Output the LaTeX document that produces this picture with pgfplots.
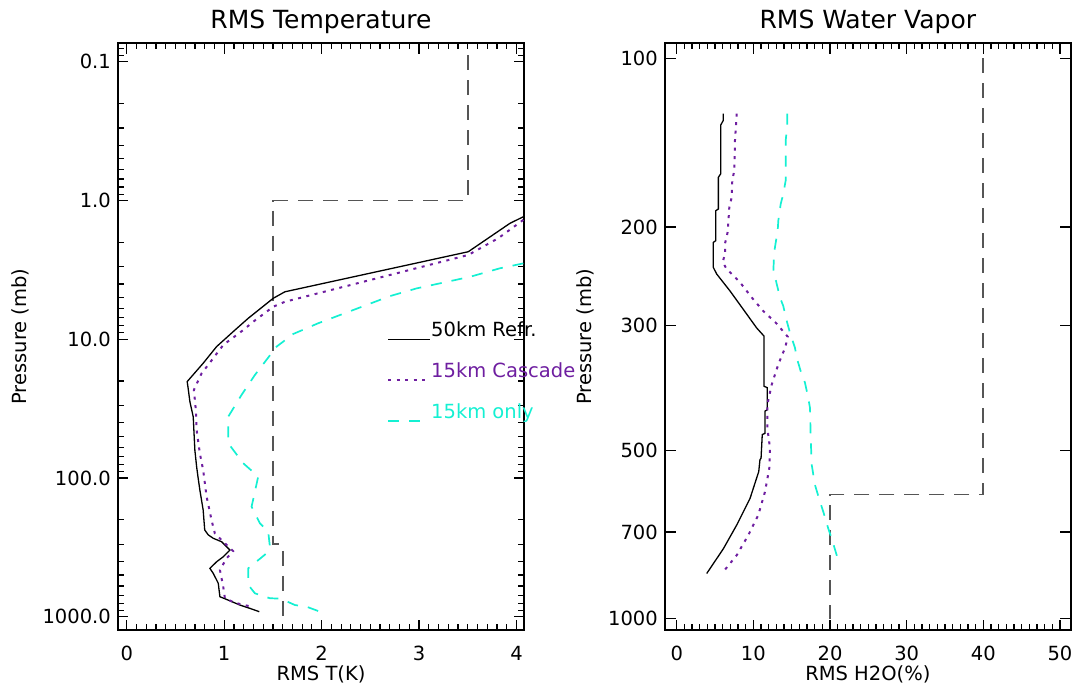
\documentclass[border=0pt]{standalone}
\usepackage{pgfplots}
\pgfplotsset{compat=1.18}
\usepackage{fontspec}
\setmainfont{DejaVu Sans}
\definecolor{cpurple}{RGB}{110,30,160}
\definecolor{ccyan}{RGB}{20,240,210}
\definecolor{cgray}{RGB}{85,85,85}
\newcommand\tfont{\fontsize{19.5}{22}\selectfont}
\newcommand\ttlfont{\fontsize{25}{28}\selectfont}
\pgfplotsset{
  major tick length=10.5pt, minor tick length=5.8pt,
  myax/.style={
    scale only axis, height=586.7pt,
    axis line style={line width=1.8pt},
    every tick/.style={line width=1.2pt, black},
    every tick label/.append style={font=\tfont},
    /pgf/number format/assume math mode=true,
    xticklabel style={anchor=north, inner sep=0pt, yshift=-16pt},
    yticklabel style={anchor=east, inner sep=0pt, xshift=-7pt},
    title style={font=\ttlfont, at={(axis description cs:0.5,1)}, anchor=base, yshift=9pt, inner sep=0pt},
    xlabel style={font=\tfont, at={(axis description cs:0.5,0)}, anchor=base, yshift=-50pt, inner sep=0pt},
    ylabel style={font=\tfont, anchor=base, inner sep=0pt},
    minor x tick num=9,
  }
}
\begin{document}
\begin{tikzpicture}[x=1pt,y=1pt]
\useasboundingbox (0,0) rectangle (1076,689);
% ---------------- Left: RMS Temperature ----------------
\begin{axis}[myax, width=406pt, ymode=log, y dir=reverse,
  at={(118pt,59pt)}, anchor=south west,
  xmin=-0.09, xmax=4.077, xtick={0,1,2,3,4},
  ymin=0.0736, ymax=1247,
  ytick={0.1,1,10,100,1000}, yticklabels={0.1,1.0,10.0,100.0,1000.0},
  minor ytick={0.08,0.09,0.2,0.3,0.4,0.5,0.6,0.7,0.8,0.9,2,3,4,5,6,7,8,9,20,30,40,50,60,70,80,90,200,300,400,500,600,700,800,900},
  title={RMS Temperature}, xlabel={RMS T(K)}, ylabel={Pressure (mb)},
  ylabel style={at={(axis description cs:-0.2266,0.5)}},
  legend style={at={(axis cs:2.673,7.5)}, anchor=north west, draw=none, fill=none,
    inner sep=0pt, outer sep=0pt, font=\tfont, row sep={41pt,between origins},
    column sep=0pt, nodes={inner sep=0pt}, cells={anchor=base west}},
  legend image code/.code={\draw[#1] (0pt,-2.6pt) -- (42pt,-2.6pt);},
]
\addplot[cgray, line width=1.9pt, dash pattern=on 15pt off 10pt, forget plot] coordinates {
(3.5,0.09) (3.5,1) (1.5,1) (1.5,300) (1.6,300) (1.6,1000)};
\addplot[black, line width=1.3pt] coordinates {
(4.07,1.31) (3.933,1.46) (3.505,2.34) (1.623,4.55) (1.503,5.07) (1.247,7.06) (1.11,8.59)
(0.922,11.3) (0.784,14.9) (0.62,20.2) (0.63,22.6) (0.648,28.2) (0.682,36.2) (0.699,63.1)
(0.717,83.0) (0.733,100.7) (0.75,122) (0.784,170) (0.80,237) (0.836,257) (0.887,272)
(0.973,288) (1.059,331) (0.99,370) (0.922,402) (0.853,448) (0.887,486) (0.939,574)
(0.956,718) (1.041,759) (1.161,824) (1.264,871) (1.36,920)};
\addlegendentry{50km Refr.}
\addplot[cpurple, line width=2pt, dash pattern=on 3pt off 5.5pt] coordinates {
(4.07,1.38) (3.813,1.87) (3.505,2.47) (1.623,5.37) (1.503,5.83) (1.298,7.48) (1.195,8.59)
(0.99,11.0) (0.836,15.3) (0.768,17.6) (0.689,23.2) (0.709,32.4) (0.717,45.1) (0.75,66.4)
(0.784,87.7) (0.819,136) (0.87,201) (0.904,251) (0.99,288) (1.092,337) (1.025,379)
(0.956,460) (0.99,608) (1.007,736) (1.11,794) (1.28,847)};
\addlegendentry{\textcolor{cpurple}{15km Cascade}}
\addplot[ccyan, line width=1.7pt, dash pattern=on 11pt off 10pt] coordinates {
(4.07,2.84) (3.83,3.08) (3.522,3.55) (2.975,4.30) (2.70,4.89) (2.462,5.66) (1.965,7.67)
(1.709,9.16) (1.538,11.3) (1.315,18.1) (1.178,25.2) (1.041,36.2) (1.041,56.2) (1.195,78.3)
(1.349,97.7) (1.281,161) (1.366,212) (1.452,244) (1.469,313) (1.435,349) (1.247,448)
(1.247,590) (1.315,678) (1.469,736) (1.58,741) (1.726,824) (1.845,847) (1.983,920)};
\addlegendentry{\textcolor{ccyan}{15km only}}
\end{axis}
% ---------------- Right: RMS Water Vapor ----------------
\begin{axis}[myax, width=405.7pt, ymode=log, y dir=reverse,
  at={(665pt,59pt)}, anchor=south west,
  xmin=-1.53, xmax=51.4, xtick={0,10,20,30,40,50},
  ymin=94, ymax=1047,
  ytick={100,200,300,500,700,1000}, yticklabels={100,200,300,500,700,1000},
  yminorticks=false,
  title={RMS Water Vapor}, xlabel={RMS H2O(\%)}, ylabel={Pressure (mb)},
  ylabel style={at={(axis description cs:-0.181,0.5)}},
]
\addplot[cgray, line width=1.9pt, dash pattern=on 15pt off 10pt] coordinates {
(40,100) (40,600) (20,600) (20,1000)};
\addplot[black, line width=1.3pt] coordinates {
(6.08,125.5) (6.08,129) (5.74,131.5) (5.74,160.7) (5.43,163) (5.43,185.7) (5.09,187)
(5.09,211.5) (4.77,213) (4.77,236) (5.22,242.6) (6.95,260) (8.69,280.5) (10.43,302.7)
(11.39,313) (11.39,384.6) (11.82,387) (11.82,423.5) (11.52,426) (11.52,466.7) (11.16,469)
(11.0,517) (10.86,520) (10.7,546) (9.56,610) (7.83,680) (6.08,750) (3.91,830)};
\addplot[cpurple, line width=2pt, dash pattern=on 3pt off 5.5pt] coordinates {
(7.83,125.5) (7.60,140) (7.51,158.5) (7.25,165) (7.17,177) (6.86,184.5) (6.65,204)
(6.30,214) (6.30,223) (6.0,231) (6.52,237.7) (7.38,244) (8.26,251) (9.78,267) (11.30,282.5)
(12.95,296.5) (14.5,314) (14.13,328.6) (13.25,351.6) (12.39,382) (11.82,415) (11.82,457)
(12.17,496) (12.08,538) (11.52,593) (10.64,653) (9.34,709) (7.83,770) (6.08,824)};
\addplot[ccyan, line width=1.7pt, dash pattern=on 11pt off 10pt] coordinates {
(14.43,125.5) (14.43,131) (14.22,140) (14.22,165) (13.90,174.6) (13.56,182) (13.25,195)
(13.17,203) (12.82,217) (12.69,225) (12.60,241) (12.95,249.5) (13.47,267) (13.90,276.6)
(14.35,294) (14.78,309) (15.43,328.6) (15.65,342) (16.30,366.4) (16.73,379) (17.16,403.5)
(17.39,420.7) (17.48,476) (17.61,531) (18.04,577) (18.69,618) (19.12,644) (19.77,690)
(20.22,719) (20.87,770) (21.08,791)};
\end{axis}
\end{tikzpicture}
\end{document}
